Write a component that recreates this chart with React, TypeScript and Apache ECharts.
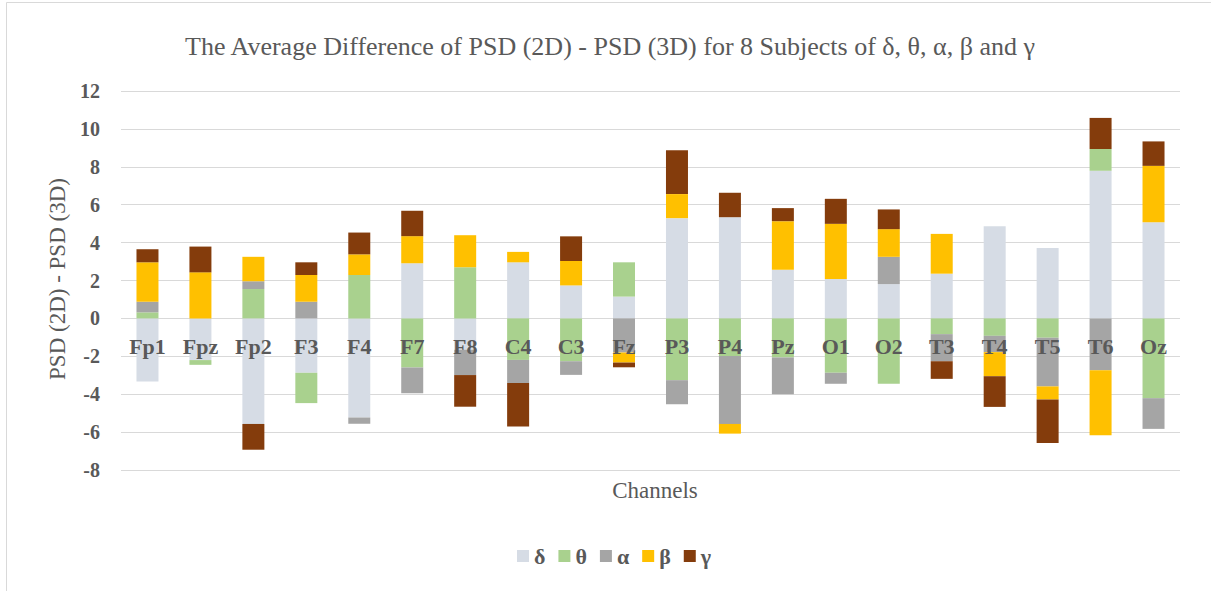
import React, { useEffect, useRef } from "react";
import * as echarts from "echarts";

const channels = ["Fp1", "Fpz", "Fp2", "F3", "F4", "F7", "F8", "C4", "C3", "Fz", "P3", "P4", "Pz", "O1", "O2", "T3", "T4", "T5", "T6", "Oz"];
const delta = [-3.33, -2.2, -5.57, -2.87, -5.23, 2.91, -1.65, 2.96, 1.74, 1.15, 5.29, 5.34, 2.57, 2.08, 1.81, 2.36, 4.86, 3.72, 7.79, 5.07];
const theta = [0.32, -0.25, 1.55, -1.6, 2.29, -2.59, 2.7, -2.19, -2.26, 1.81, -3.26, -1.99, -2.06, -2.87, -3.45, -0.83, -0.92, -1.02, 1.15, -4.21];
const alpha = [0.56, 0, 0.41, 0.88, -0.33, -1.36, -1.34, -1.22, -0.72, -1.8, -1.27, -3.58, -1.94, -0.58, 1.44, -1.43, -0.86, -2.57, -2.73, -1.62];
const beta = [2.08, 2.43, 1.29, 1.41, 1.09, 1.43, 1.69, 0.55, 1.29, -0.53, 1.27, -0.51, 2.56, 2.91, 1.46, 2.1, -1.27, -0.69, -3.44, 2.98];
const gamma = [0.69, 1.36, -1.36, 0.67, 1.15, 1.34, -1.67, -2.29, 1.3, -0.25, 2.31, 1.29, 0.69, 1.32, 1.04, -0.93, -1.62, -2.29, 1.64, 1.29];

const bandNames = ["δ", "θ", "α", "β", "γ"];
const bandColors = ["#D6DCE5", "#A9D18E", "#A5A5A5", "#FFC000", "#843C0C"];
const bandData = [delta, theta, alpha, beta, gamma];

const FONT = "serif";
const TEXT = "#595959";

export default function App() {
  const ref = useRef<HTMLDivElement>(null);
  useEffect(() => {
    if (!ref.current) return;
    const chart = echarts.init(ref.current, undefined, { renderer: "svg" });
    chart.setOption({
      animation: false,
      backgroundColor: "#ffffff",
      title: {
        text: "The Average Difference of PSD (2D) - PSD (3D) for 8 Subjects of δ, θ, α, β and γ",
        left: 605,
        textAlign: "center",
        top: 28,
        textStyle: { fontFamily: FONT, fontSize: 26, fontWeight: "normal", color: TEXT },
      },
      legend: {
        data: bandNames,
        left: 517,
        top: 545,
        padding: 0,
        itemWidth: 12,
        itemHeight: 12,
        itemGap: 13,
        icon: "rect",
        textStyle: { fontFamily: FONT, fontSize: 22, fontWeight: "bold", color: TEXT },
      },
      grid: { left: 121, right: 31, top: 91, bottom: 121, containLabel: false },
      xAxis: {
        type: "category",
        data: channels,
        position: "bottom",
        offset: -151.6,
        z: 10,
        axisLine: { show: false, onZero: false },
        axisTick: { show: false },
        axisLabel: { fontFamily: FONT, fontSize: 22, fontWeight: "bold", color: TEXT, margin: 17.5 },
        splitLine: { show: false },
      },
      yAxis: {
        type: "value",
        min: -8,
        max: 12,
        interval: 2,
        axisLine: { show: false },
        axisTick: { show: false },
        axisLabel: { fontFamily: FONT, fontSize: 20, fontWeight: "bold", color: TEXT, margin: 21 },
        splitLine: { lineStyle: { color: "#D9D9D9", width: 1 } },
      },
      series: bandNames.map((name, i) => ({
        name,
        type: "bar",
        stack: "total",
        barWidth: 22,
        data: bandData[i],
        itemStyle: { color: bandColors[i] },
      })),
      graphic: [
        {
          type: "rect",
          shape: { x: 6.5, y: 2.5, width: 1300, height: 700 },
          style: { fill: "none", stroke: "#D9D9D9", lineWidth: 1 },
          silent: true,
        },
        {
          type: "text",
          x: 57,
          y: 279,
          rotation: Math.PI / 2,
          style: {
            text: "PSD (2D) - PSD (3D)",
            fontFamily: FONT,
            fontSize: 23,
            fill: TEXT,
            align: "center",
            verticalAlign: "middle",
          },
        },
        {
          type: "text",
          x: 655,
          y: 490.5,
          style: {
            text: "Channels",
            fontFamily: FONT,
            fontSize: 23,
            fill: TEXT,
            align: "center",
            verticalAlign: "middle",
          },
        },
      ],
    });
    return () => chart.dispose();
  }, []);
  return (
    <div
      ref={ref}
      style={{ position: "fixed", left: 0, top: 0, width: 1211, height: 591, background: "#fff" }}
    />
  );
}
